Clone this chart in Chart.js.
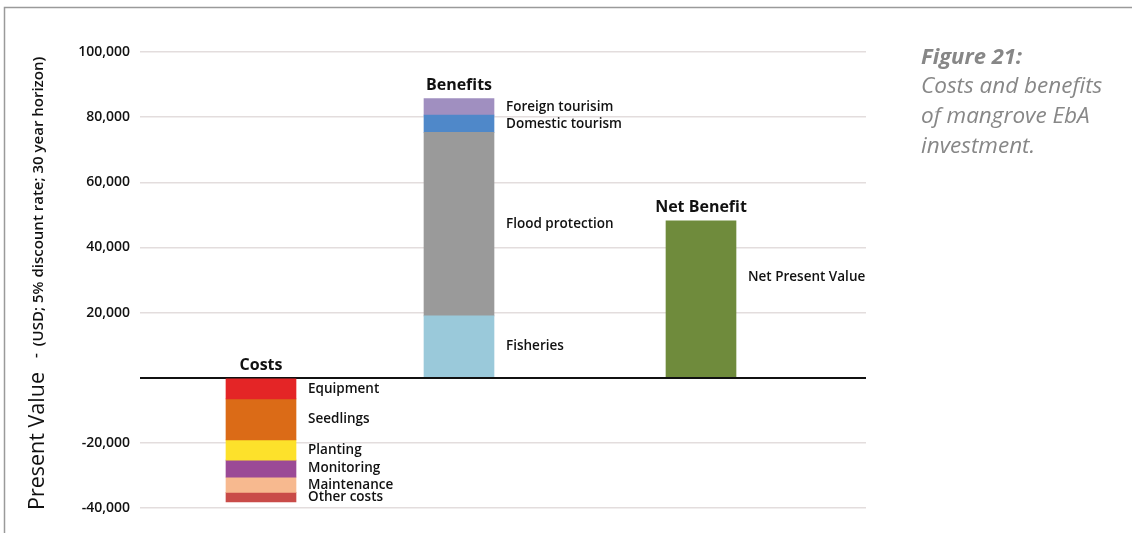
<!DOCTYPE html>
<html>
<head>
<meta charset="utf-8">
<script src="https://cdn.jsdelivr.net/npm/chart.js@4/dist/chart.umd.min.js"></script>
<style>
  html, body { margin: 0; padding: 0; background: #fff; }
  #wrap { width: 1132px; height: 533px; position: relative; }
</style>
</head>
<body>
<div id="wrap"><canvas id="chart"></canvas></div>
<script>
// --- data ---
const categories = ['Costs', 'Benefits', 'Net Benefit'];
const slotCount = 33;              // empty slots give the uneven spacing of the three bars
const categorySlots = [5, 14, 25];

const costLabels = ['Equipment', 'Seedlings', 'Planting', 'Monitoring', 'Maintenance', 'Other costs'];
const costValues = [-6500, -12600, -6200, -5200, -4700, -2900];
const costColors = ['#e42526', '#db6b17', '#fde12b', '#9b4a96', '#f7b98f', '#c94b48'];

const benefitLabels = ['Fisheries', 'Flood protection', 'Domestic tourism', 'Foreign tourisim'];
const benefitValues = [19000, 56300, 5300, 5100];
const benefitColors = ['#9ac9da', '#9a9a9a', '#4f88c9', '#a08fc0'];

const netLabels = ['Net Present Value'];
const netValues = [48200];
const netColors = ['#6f8b3c'];

const yMin = -40000, yMax = 100000, yStep = 20000;

const yTitleMain = 'Present Value';
const yTitleSub = '(USD; 5% discount rate; 30 year horizon)';
const captionTitle = 'Figure 21:';
const captionLines = ['Costs and benefits', 'of mangrove EbA', 'investment.'];

const FONT = "'Open Sans', sans-serif";

const slotLabels = Array.from({ length: slotCount }, (_, i) => {
    const k = categorySlots.indexOf(i);
    return k >= 0 ? categories[k] : '';
});

function makeDatasets(names, values, colors, catIndex, labelAt) {
    return names.map((name, i) => {
        const data = new Array(slotCount).fill(null);
        data[categorySlots[catIndex]] = values[i];
        return {
            label: name,
            data: data,
            backgroundColor: colors[i],
            borderWidth: 0,
            barThickness: 70,
            catIndex: catIndex,
            labelAt: labelAt   // where the side label sits, as a share of the segment from its top
        };
    });
}

const datasets = [
    ...makeDatasets(costLabels, costValues, costColors, 0, 0.5),
    ...makeDatasets(benefitLabels, benefitValues, benefitColors, 1, 0.5),
    ...makeDatasets(netLabels, netValues, netColors, 2, 0.36)
];

// frame lines, y title, caption
const decorPlugin = {
    id: 'decor',
    beforeDraw(chart) {
        const ctx = chart.ctx;
        ctx.save();
        ctx.strokeStyle = '#9a9a9a';
        ctx.lineWidth = 1.5;
        ctx.beginPath();
        ctx.moveTo(4.5, chart.height);
        ctx.lineTo(4.5, 7.5);
        ctx.lineTo(chart.width, 7.5);
        ctx.stroke();
        ctx.restore();
    },
    afterDraw(chart) {
        const ctx = chart.ctx;
        ctx.save();
        // rotated y-axis title, mixed sizes
        ctx.translate(44, 510);
        ctx.rotate(-Math.PI / 2);
        ctx.fillStyle = '#111';
        ctx.textBaseline = 'alphabetic';
        ctx.textAlign = 'left';
        ctx.font = '400 21.5px ' + FONT;
        ctx.fillText(yTitleMain, 0, 0);
        let pos = ctx.measureText(yTitleMain).width + 14;
        ctx.font = '600 15px ' + FONT;
        ctx.fillText('-', pos, -4);
        pos += ctx.measureText('-').width + 7;
        ctx.font = '600 15px ' + FONT;
        ctx.fillText(yTitleSub, pos, -1);
        ctx.restore();

        // caption on the right
        ctx.save();
        ctx.fillStyle = '#878787';
        ctx.textAlign = 'left';
        ctx.textBaseline = 'alphabetic';
        ctx.font = 'italic 700 22px ' + FONT;
        ctx.fillText(captionTitle, 921, 64);
        ctx.font = 'italic 400 22.5px ' + FONT;
        captionLines.forEach((line, i) => ctx.fillText(line, 921, 93 + i * 30));
        ctx.restore();
    }
};

// segment labels and category headers
const labelPlugin = {
    id: 'segLabels',
    afterDatasetsDraw(chart) {
        const ctx = chart.ctx;
        const tops = categories.map(() => Infinity);
        const centers = categories.map(() => 0);
        ctx.save();
        ctx.fillStyle = '#111';
        ctx.textAlign = 'left';
        ctx.textBaseline = 'middle';
        ctx.font = '600 13.5px ' + FONT;
        chart.data.datasets.forEach((ds, i) => {
            const meta = chart.getDatasetMeta(i);
            const el = meta.data[categorySlots[ds.catIndex]];
            if (!el) return;
            const top = Math.min(el.y, el.base);
            const bottom = Math.max(el.y, el.base);
            tops[ds.catIndex] = Math.min(tops[ds.catIndex], top);
            centers[ds.catIndex] = el.x;
            ctx.fillText(ds.label, el.x + el.width / 2 + 12, top + (bottom - top) * ds.labelAt);
        });
        ctx.textAlign = 'center';
        ctx.textBaseline = 'alphabetic';
        ctx.font = '700 16px ' + FONT;
        categories.forEach((name, k) => {
            ctx.fillText(name, centers[k], tops[k] - 9);
        });
        ctx.restore();
    }
};

new Chart(document.getElementById('chart'), {
    type: 'bar',
    data: { labels: slotLabels, datasets: datasets },
    options: {
        responsive: true,
        maintainAspectRatio: false,
        animation: false,
        layout: { padding: { left: 0, right: 266, top: 52, bottom: 25 } },
        plugins: {
            legend: { display: false },
            tooltip: { enabled: false }
        },
        scales: {
            x: {
                stacked: true,
                display: false
            },
            y: {
                stacked: true,
                min: yMin,
                max: yMax,
                afterFit: (scale) => { scale.width = 140; },
                border: { display: false },
                grid: {
                    drawTicks: false,
                    color: (c) => c.tick && c.tick.value === 0 ? '#111' : '#e3dddd',
                    lineWidth: (c) => c.tick && c.tick.value === 0 ? 2 : 1.5
                },
                ticks: {
                    stepSize: yStep,
                    padding: 10,
                    color: '#111',
                    font: { family: FONT, size: 14, weight: '600' },
                    callback: (v) => v === 0 ? '' : v.toLocaleString('en-US')
                }
            }
        }
    },
    plugins: [decorPlugin, labelPlugin]
});
</script>
</body>
</html>
